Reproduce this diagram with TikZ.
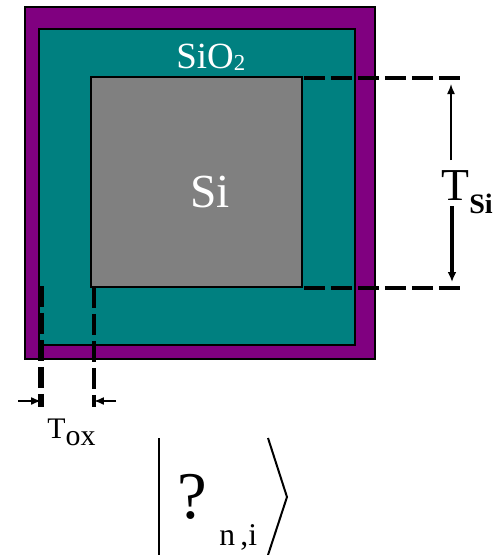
\documentclass[tikz,border=0pt]{standalone}
\usepackage{fontspec}
\setmainfont{Liberation Serif}
\usetikzlibrary{arrows.meta,positioning}
\definecolor{roxo}{RGB}{128,0,128}
\definecolor{verde}{RGB}{0,128,128}
\definecolor{cinza}{RGB}{128,128,128}

\begin{document}
\begin{tikzpicture}[
    x=0.02cm, y=-0.02cm,
    bloco/.style={draw, line width=0.04cm, inner sep=0pt, outer sep=0pt},
    cota/.style={line width=0.08cm, dash pattern=on 0.42cm off 0.12cm},
    seta/.style={-{Latex[length=2mm,width=1.6mm]}, line width=0.03cm},
    setagrossa/.style={-{Latex[length=2mm,width=1.8mm]}, line width=0.07cm},
    rotulo/.style={inner sep=0pt, anchor=base west}
  ]
    \useasboundingbox (0,0) rectangle (499,555);
    \node[bloco, fill=roxo, minimum width=7cm, minimum height=7.04cm] (oxidoext) at (200,183) {};
    \node[bloco, fill=verde, minimum width=6.32cm, minimum height=6.32cm] (oxido) at (197,187) {};
    \node[bloco, fill=cinza, minimum width=4.22cm, minimum height=4.2cm] (si) at (196.5,182) {};
    \node[rotulo, text=white, font=\fontsize{27pt}{27pt}\selectfont] (rotsi) at (190,207) {Si};
    \node[rotulo, text=white, font=\fontsize{21pt}{21pt}\selectfont] (sio) at (176,68) {SiO\raisebox{-1.7pt}{\fontsize{13pt}{13pt}\selectfont 2}};

    \coordinate (topoini) at (304,78);
    \coordinate (baseini) at (304,288);
    \coordinate (topo) at (460,78);
    \coordinate (base) at (460,288);
    \coordinate (esqini) at (41,286);
    \coordinate (dirini) at (94,287);
    \coordinate (esq) at (41,407);
    \coordinate (dir) at (94,407);
    \draw[cota] (topoini) -- (topo);
    \draw[cota] (baseini) -- (base);
    \draw[cota, line width=0.11cm] (esqini) -- (esq);
    \draw[cota] (dirini) -- (dir);

    \node[rotulo, font=\fontsize{26pt}{26pt}\selectfont] (tsi) at (441,200) {T\raisebox{-7.4pt}{\fontsize{16pt}{16pt}\selectfont\bfseries Si}};
    \coordinate (cima) at (451,160);
    \coordinate (cimaf) at (451,84);
    \coordinate (baixo) at (452,206);
    \coordinate (baixof) at (452,282);
    \draw[seta] (cima) -- (cimaf);
    \draw[setagrossa] (baixo) -- (baixof);

    \coordinate (ta) at (18,401);
    \coordinate (tb) at (116,401);
    \coordinate (tc) at (41,401);
    \coordinate (td) at (94,401);
    \draw[seta] (ta) -- (tc);
    \draw[seta] (tb) -- (td);
    \node[rotulo, font=\fontsize{17pt}{17pt}\selectfont] (tox) at (47,438) {T\raisebox{-4pt}{ox}};

    \coordinate (barraa) at (159,438);
    \coordinate (barrab) at (159,555);
    \coordinate (anga) at (268,438);
    \coordinate (angb) at (287,497);
    \coordinate (angc) at (268,555);
    \draw[line width=0.05cm] (barraa) -- (barrab);
    \draw[line width=0.04cm] (anga) -- (angb) -- (angc);
    \node[inner sep=0pt, font=\fontsize{38pt}{38pt}\selectfont] (psi) at (192,497) {?};
    \node[rotulo, font=\fontsize{18pt}{18pt}\selectfont] (ni) at (219,545) {n\,,i};
  \end{tikzpicture}
\end{document}
